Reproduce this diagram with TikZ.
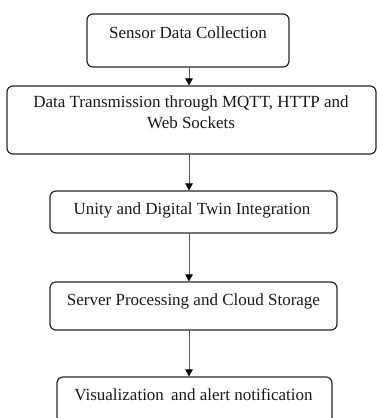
\documentclass[tikz,border=0pt]{standalone}
\usepackage{fontspec}
\setmainfont{Liberation Serif}
\usetikzlibrary{arrows.meta}
\begin{document}
\begin{tikzpicture}[x=1pt,y=-1pt,
  stage/.style={draw=black!85, line width=1.2pt, rounded corners=6pt, inner sep=0pt},
  caption/.style={font=\fontsize{17}{21}\selectfont, align=center, inner sep=0pt, text=black!90},
  flow/.style={draw=black!65, line width=0.8pt, -{Triangle[length=7pt,width=7.5pt,color=black,fill=black]}}]
  \useasboundingbox (0,0) rectangle (377,418);

  % stage boxes
  \node[stage, minimum width=202pt, minimum height=53pt] (s1) at (188,40.5) {};
  \node[stage, minimum width=369pt, minimum height=68pt] (s2) at (191.5,120) {};
  \node[stage, minimum width=287pt, minimum height=42pt] (s3) at (193.5,212) {};
  \node[stage, minimum width=287pt, minimum height=48pt] (s4) at (193.5,306) {};
  \node[stage, minimum width=275pt, minimum height=50pt] (s5) at (194.5,402) {};

  % stage labels
  \node[caption] (t1) at (188,33) {Sensor Data Collection};
  \node[caption] (t2) at (191,112) {Data Transmission through MQTT, HTTP and\\Web Sockets};
  \node[caption] (t3) at (192,210) {Unity and Digital Twin Integration};
  \node[caption] (t4) at (193.5,301) {Server Processing and Cloud Storage};
  \node[caption] (t5) at (193.5,395) {Visualization\, and alert notification};

  % connectors
  \coordinate (axis) at (189,0);
  \draw[flow] (s1.south -| axis) -- (s2.north -| axis);
  \draw[flow] (s2.south -| axis) -- (s3.north -| axis);
  \draw[flow] (s3.south -| axis) -- (s4.north -| axis);
  \draw[flow] (s4.south -| axis) -- (s5.north -| axis);
\end{tikzpicture}
\end{document}
